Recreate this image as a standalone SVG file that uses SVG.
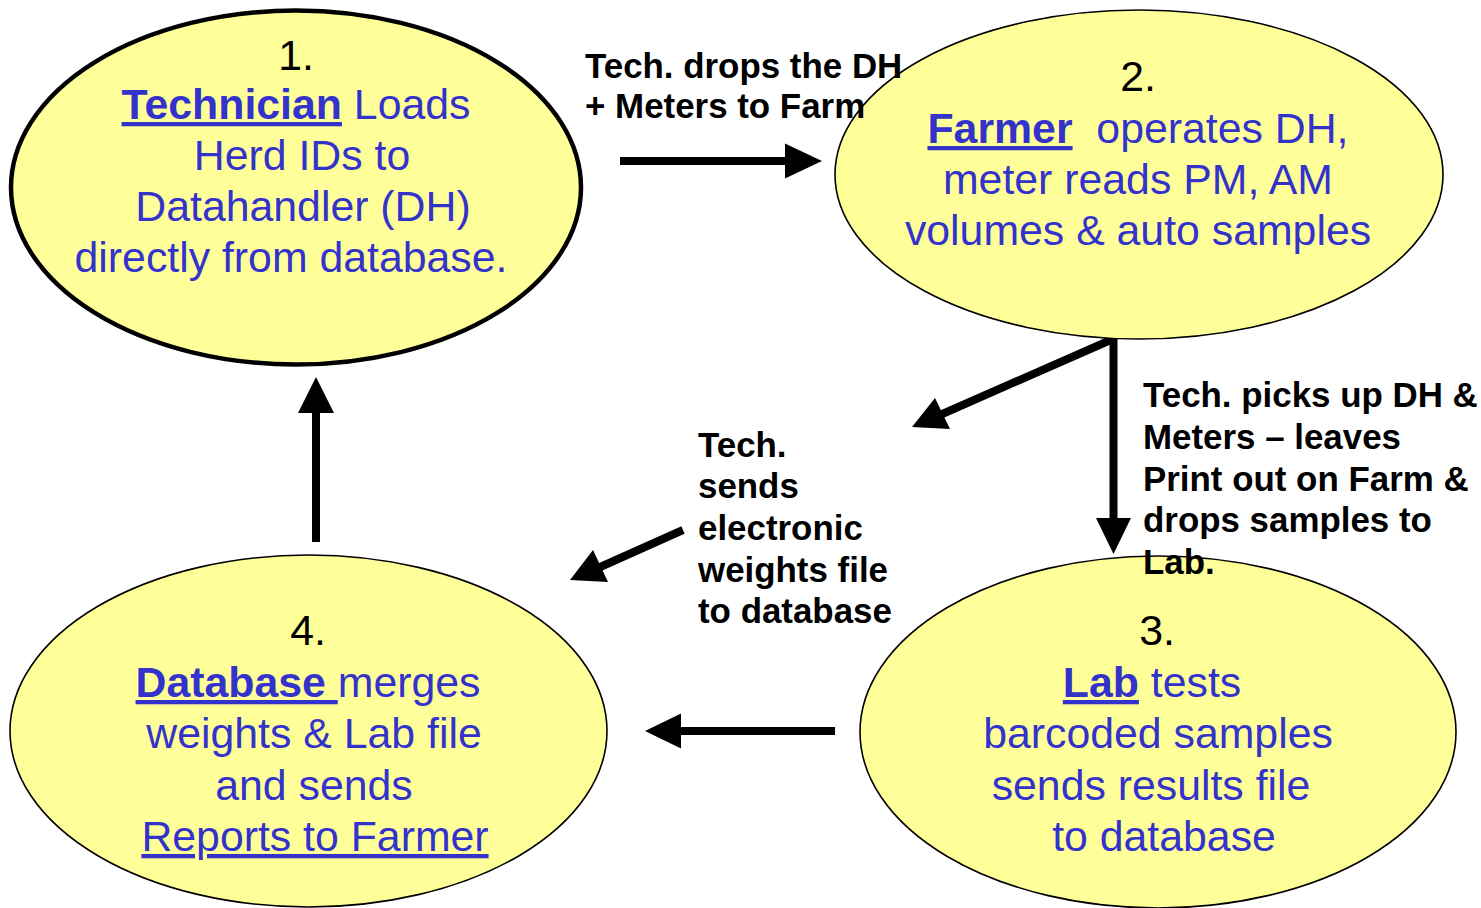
<svg xmlns="http://www.w3.org/2000/svg" width="1481" height="908" viewBox="0 0 1481 908">
<style>
.node{fill:#FFFF99;stroke:#000;stroke-width:1.6}
.thick{stroke-width:4.5}
.t{font-family:"Liberation Sans",Arial,sans-serif;font-size:42.8px;fill:#3333CC;text-anchor:middle}
.n{fill:#000}
.b{font-weight:bold}
.u{text-decoration:underline}
.lbl{font-family:"Liberation Sans",Arial,sans-serif;font-size:34.9px;font-weight:bold;fill:#000}
.c{stroke:#000;stroke-width:8;fill:none}
.h{fill:#000}
</style>
<rect width="1481" height="908" fill="#fff"/>
<g id="connectors">
  <line class="c" x1="620" y1="161" x2="788" y2="161"/>
  <polygon class="h" points="822,161 785,143.5 785,178.5"/>
  <line class="c" x1="1113" y1="339" x2="940" y2="415"/>
  <polygon class="h" points="912,427 935,398 950,429"/>
  <line class="c" x1="1113.5" y1="338" x2="1113.5" y2="522"/>
  <polygon class="h" points="1113.5,554 1096,518 1131,518"/>
  <line class="c" x1="683" y1="530" x2="598" y2="568"/>
  <polygon class="h" points="570,580 593,550 608,582"/>
  <line class="c" x1="835" y1="731" x2="678" y2="731"/>
  <polygon class="h" points="645,731 681,713.5 681,748.5"/>
  <line class="c" x1="316" y1="542" x2="316" y2="410"/>
  <polygon class="h" points="316,377 298,413 334,413"/>
</g>
<g id="node1">
  <ellipse class="node thick" cx="296" cy="187.5" rx="285" ry="177"/>
  <text class="t" xml:space="preserve"><tspan class="n" x="296" y="70">1.</tspan><tspan x="296" y="119"><tspan class="b u">Technician</tspan> Loads</tspan><tspan x="302" y="170">Herd IDs to</tspan><tspan x="303" y="221">Datahandler (DH)</tspan><tspan x="291" y="272">directly from database.</tspan></text>
</g>
<g id="node2">
  <ellipse class="node" cx="1139" cy="174.5" rx="304" ry="164.5"/>
  <text class="t" xml:space="preserve"><tspan class="n" x="1138" y="91">2.</tspan><tspan x="1138" y="143"><tspan class="b u">Farmer</tspan>  operates DH,</tspan><tspan x="1138" y="194">meter reads PM, AM</tspan><tspan x="1138" y="245">volumes &amp; auto samples</tspan></text>
</g>
<g id="node3">
  <ellipse class="node" cx="1158" cy="732" rx="298" ry="176"/>
  <text class="t" xml:space="preserve"><tspan class="n" x="1157" y="645">3.</tspan><tspan x="1152" y="697"><tspan class="b u">Lab</tspan> tests</tspan><tspan x="1158" y="748">barcoded samples</tspan><tspan x="1151" y="800">sends results file</tspan><tspan x="1164" y="851">to database</tspan></text>
</g>
<g id="node4">
  <ellipse class="node" cx="308.5" cy="731" rx="298.5" ry="176"/>
  <text class="t" xml:space="preserve"><tspan class="n" x="308" y="645">4.</tspan><tspan x="308" y="697"><tspan class="b u">Database </tspan>merges</tspan><tspan x="314" y="748">weights &amp; Lab file</tspan><tspan x="314" y="800">and sends</tspan><tspan class="u" x="315" y="851">Reports to Farmer</tspan></text>
</g>
<g id="labels">
  <text class="lbl"><tspan x="585" y="78">Tech. drops the DH</tspan><tspan x="585" y="118">+ Meters to Farm</tspan></text>
  <text class="lbl"><tspan x="698" y="457">Tech.</tspan><tspan x="698" y="498">sends</tspan><tspan x="698" y="540">electronic</tspan><tspan x="698" y="582">weights file</tspan><tspan x="698" y="623">to database</tspan></text>
  <text class="lbl"><tspan x="1143" y="407">Tech. picks up DH &amp;</tspan><tspan x="1143" y="449">Meters – leaves</tspan><tspan x="1143" y="491">Print out on Farm &amp;</tspan><tspan x="1143" y="532">drops samples to</tspan><tspan x="1143" y="574">Lab.</tspan></text>
</g>
</svg>
